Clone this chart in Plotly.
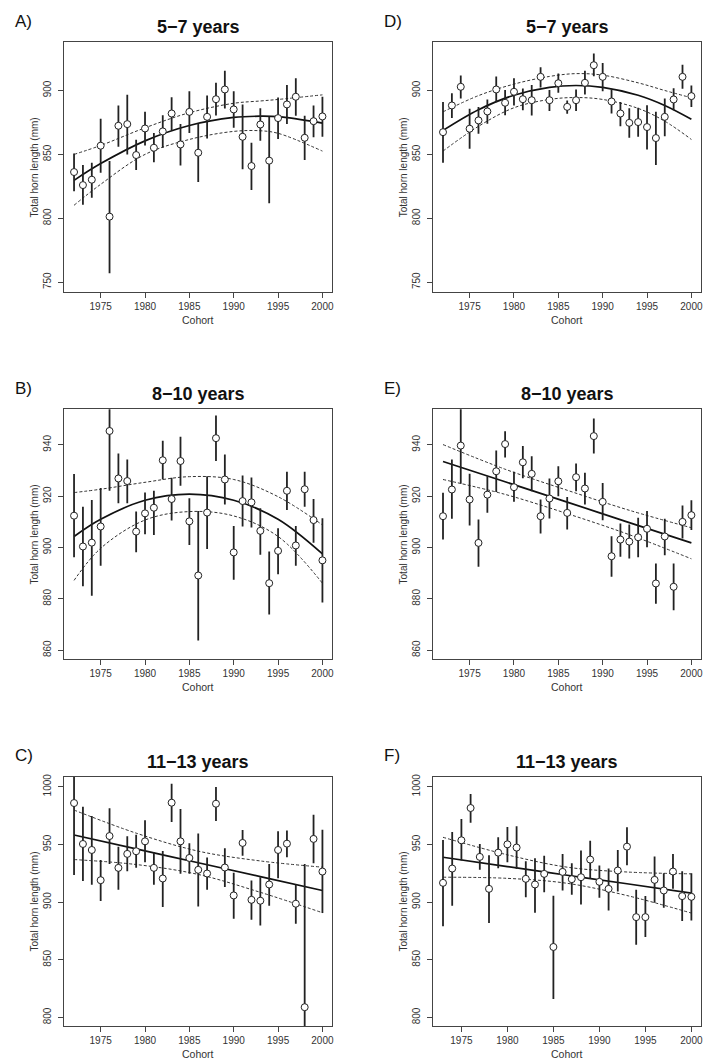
import plotly.graph_objects as go

# ---------------- data ----------------
years_72 = list(range(1972, 2001))
years_73 = list(range(1973, 2001))

# Panel A (5-7 years, left)
a_mean = [836.2, 826.0, 830.2, 856.8, 801.3, 872.4, 873.7, 849.5, 870.3, 855.2, 868.0, 882.0, 857.8, 883.3, 851.3,
          879.4, 893.2, 900.8, 885.2, 863.8, 840.9, 873.4, 845.1, 878.4, 889.1, 895.1, 863.0, 876.0, 879.7]
a_hi = [850.8, 841.7, 843.5, 877.9, 844.8, 888.3, 896.6, 861.5, 883.3, 866.7, 880.7, 894.8, 873.7, 899.5, 874.0,
        896.1, 906.0, 915.4, 899.5, 889.1, 859.1, 886.2, 879.4, 894.5, 904.4, 909.6, 880.2, 888.3, 895.1]
a_lo = [821.1, 810.7, 816.1, 835.7, 757.0, 856.0, 850.0, 837.8, 857.0, 843.8, 855.2, 869.0, 841.4, 866.7, 828.4,
        862.5, 880.5, 885.9, 870.8, 838.3, 822.1, 860.7, 811.7, 862.0, 873.7, 880.2, 845.6, 863.5, 863.8]
a_fit_x = [1972, 1975, 1980, 1985, 1990, 1993, 1995, 2000]
a_fit = [829.7, 842.8, 860.6, 872.6, 878.9, 879.9, 879.5, 874.5]
a_fit_hi = [850.0, 857.0, 870.8, 882.6, 890.0, 891.8, 893.0, 896.6]
a_fit_lo = [810.2, 826.6, 850.0, 861.7, 868.0, 868.5, 866.5, 852.6]

# Panel D (5-7 years, right)
d_mean = [867.4, 888.3, 902.9, 870.1, 876.6, 883.6, 900.8, 890.4, 899.0, 893.2, 892.4, 910.7, 892.4, 905.7, 887.2,
          892.4, 906.0, 919.8, 910.7, 891.4, 882.0, 874.7, 875.3, 871.4, 862.8, 879.4, 893.0, 910.7, 895.6]
d_hi = [891.1, 897.9, 911.7, 885.7, 887.0, 893.0, 910.9, 900.3, 909.6, 901.6, 904.4, 918.2, 900.3, 913.3, 892.2,
        900.8, 915.4, 928.9, 921.6, 900.8, 891.1, 886.2, 886.5, 888.5, 883.3, 893.8, 901.8, 920.1, 903.9]
d_lo = [843.5, 878.4, 893.8, 854.4, 866.1, 874.0, 890.9, 880.7, 888.3, 884.6, 880.5, 902.3, 883.9, 898.2, 881.8,
        883.9, 896.9, 911.2, 899.5, 882.0, 872.1, 863.0, 863.8, 853.9, 841.7, 864.3, 884.6, 901.3, 887.0]
d_fit_x = [1972, 1976, 1980, 1984, 1987, 1990, 1994, 1997, 2000]
d_fit = [868.8, 885.0, 896.3, 902.5, 903.9, 902.5, 896.3, 888.3, 877.5]
d_fit_hi = [883.3, 896.0, 905.0, 911.0, 913.2, 912.0, 906.0, 900.0, 894.3]
d_fit_lo = [852.6, 872.0, 886.5, 893.0, 894.5, 893.0, 886.0, 876.0, 861.7]

# Panel B (8-10 years, left)
b_mean = [912.4, 900.4, 901.9, 908.2, 945.4, 926.9, 925.9, 906.2, 913.3, 915.5, 934.0, 918.9, 933.7, 910.2, 889.1,
          913.6, 942.6, 926.5, 898.1, 918.1, 917.6, 906.5, 886.1, 898.7, 922.1, 900.8, 922.7, 910.7, 895.0]
b_hi = [928.6, 915.9, 918.5, 923.2, 960.0, 936.6, 934.3, 914.0, 921.4, 922.1, 941.6, 927.2, 943.1, 919.2, 914.2,
        927.8, 951.4, 936.2, 908.4, 928.1, 927.3, 915.3, 898.4, 907.5, 929.5, 908.4, 929.5, 918.9, 911.4]
b_lo = [896.2, 884.9, 881.2, 892.9, 922.1, 917.2, 917.2, 898.2, 905.2, 904.9, 926.5, 910.5, 924.1, 901.0, 863.8,
        899.4, 933.7, 916.8, 887.4, 908.2, 907.8, 897.2, 873.9, 889.6, 914.6, 892.9, 915.9, 901.9, 878.6]
b_fit_x = [1972, 1975, 1980, 1985, 1990, 1995, 2000]
b_fit = [904.3, 911.0, 918.4, 920.8, 918.4, 911.0, 897.5]
b_fit_hi = [921.4, 922.7, 925.4, 927.6, 926.5, 919.8, 908.8]
b_fit_lo = [887.2, 899.7, 910.7, 914.0, 912.3, 904.3, 886.1]

# Panel E (8-10 years, right)
e_mean = [912.2, 922.6, 939.7, 918.7, 901.8, 920.6, 929.7, 940.3, 923.5, 933.2, 928.7, 912.2, 919.1, 925.8, 913.5,
          927.4, 923.0, 943.4, 917.8, 896.6, 903.1, 902.3, 904.0, 907.3, 886.0, 904.3, 884.7, 910.0, 912.6]
e_hi = [921.3, 934.3, 958.0, 928.7, 910.9, 927.8, 937.8, 945.3, 929.5, 939.5, 935.6, 918.7, 926.9, 931.7, 919.7,
        932.7, 929.1, 950.3, 925.1, 904.4, 909.4, 909.0, 911.6, 914.2, 893.8, 911.2, 893.8, 916.4, 918.4]
e_lo = [903.1, 911.2, 924.8, 908.6, 892.5, 913.5, 921.6, 935.1, 917.8, 927.0, 921.9, 905.5, 911.3, 920.0, 907.0,
        921.9, 916.8, 936.6, 910.6, 888.6, 896.4, 895.7, 896.2, 900.1, 878.1, 897.0, 875.6, 903.5, 906.8]
e_fit_x = [1972, 1979, 1986, 1993, 2000]
e_fit = [933.5, 925.6, 917.7, 909.7, 901.8]
e_fit_hi = [940.1, 930.5, 922.3, 914.5, 907.7]
e_fit_lo = [926.5, 920.7, 913.2, 905.0, 895.6]

# Panel C (11-13 years, left)
c_mean = [985.9, 950.4, 945.2, 919.0, 957.3, 929.7, 941.8, 944.1, 952.7, 929.7, 920.5, 986.2, 952.7, 938.3, 928.0,
          924.8, 985.3, 930.0, 905.8, 951.3, 902.0, 901.2, 915.3, 945.2, 950.7, 898.6, 808.9, 954.8, 926.5]
c_hi = [1015.0, 982.7, 974.6, 936.6, 981.3, 948.1, 957.1, 958.5, 970.9, 943.2, 944.4, 1002.6, 980.7, 951.0, 959.4,
        938.6, 999.7, 946.7, 925.4, 962.5, 918.7, 921.6, 933.1, 961.4, 962.0, 915.3, 933.1, 975.8, 962.8]
c_lo = [923.6, 918.2, 915.0, 900.9, 933.1, 910.7, 926.8, 929.7, 934.6, 915.0, 895.7, 969.5, 924.5, 924.5, 896.3,
        910.7, 970.3, 913.0, 885.6, 940.1, 884.7, 879.8, 896.8, 920.7, 938.9, 881.3, 780.0, 933.7, 890.5]
c_fit_x = [1972, 1979, 1986, 1993, 2000]
c_fit = [958.2, 946.2, 934.1, 922.1, 910.1]
c_fit_hi = [979.8, 959.8, 944.2, 935.7, 930.3]
c_fit_lo = [936.9, 932.6, 924.0, 908.5, 890.8]

# Panel F (11-13 years, right)
f_mean = [916.7, 929.1, 953.6, 981.6, 939.2, 911.5, 942.9, 950.1, 947.3, 920.2, 915.3, 924.5, 861.1, 926.2,
          919.9, 921.6, 936.9, 917.6, 911.5, 927.4, 948.1, 887.0, 887.0, 919.3, 910.1, 926.5, 905.2, 904.6]
f_hi = [953.9, 960.8, 972.0, 993.7, 950.4, 940.6, 956.2, 965.1, 965.7, 935.4, 938.0, 940.1, 905.5, 941.8,
        933.7, 944.7, 953.3, 931.7, 929.1, 945.2, 964.8, 910.7, 905.2, 939.5, 925.1, 941.8, 926.8, 925.1]
f_lo = [879.0, 896.8, 936.0, 968.9, 928.0, 881.8, 929.4, 934.6, 928.8, 904.3, 890.8, 908.6, 816.1, 910.1,
        906.3, 898.0, 920.2, 903.7, 892.8, 909.2, 932.0, 863.1, 869.7, 899.4, 895.1, 911.5, 883.6, 884.1]
f_fit_x = [1973, 1980, 1986.5, 1993, 2000]
f_fit = [938.9, 930.8, 923.3, 915.9, 907.8]
f_fit_hi = [956.2, 941.0, 930.3, 926.1, 924.5]
f_fit_lo = [921.6, 920.6, 916.3, 905.7, 890.5]

titles = ["5\u22127 years", "8\u221210 years", "11\u221213 years"]
panel_labels = ["A)", "B)", "C)", "D)", "E)", "F)"]
x_ticks = [1975, 1980, 1985, 1990, 1995, 2000]
y_ticks_row1 = [750, 800, 850, 900]
y_ticks_row2 = [860, 880, 900, 920, 940]
y_ticks_row3 = [800, 850, 900, 950, 1000]

# ---------------- layout helpers ----------------
W, H = 708, 1064
FONT = "Liberation Sans, Arial, Helvetica, sans-serif"
col_px = [(64.3, 333.3), (434.3, 703.3)]
row_px = [(39.3, 290.0), (407.3, 658.3), (775.7, 1026.0)]
row_yrange = [(742.2, 937.8), (856.4, 953.9), (792.5, 1008.9)]
row_yticks = [y_ticks_row1, y_ticks_row2, y_ticks_row3]


def px_x(v):
    return v / W


def px_y(v):
    return 1 - v / H


panels = [
    (0, 0, years_72, a_mean, a_hi, a_lo, a_fit_x, a_fit, a_fit_hi, a_fit_lo, (1970.88, 2001.12)),
    (0, 1, years_72, b_mean, b_hi, b_lo, b_fit_x, b_fit, b_fit_hi, b_fit_lo, (1970.88, 2001.12)),
    (0, 2, years_72, c_mean, c_hi, c_lo, c_fit_x, c_fit, c_fit_hi, c_fit_lo, (1970.88, 2001.12)),
    (1, 0, years_72, d_mean, d_hi, d_lo, d_fit_x, d_fit, d_fit_hi, d_fit_lo, (1970.88, 2001.12)),
    (1, 1, years_72, e_mean, e_hi, e_lo, e_fit_x, e_fit, e_fit_hi, e_fit_lo, (1970.88, 2001.12)),
    (1, 2, years_73, f_mean, f_hi, f_lo, f_fit_x, f_fit, f_fit_hi, f_fit_lo, (1971.92, 2001.08)),
]

fig = go.Figure()
layout = dict(width=W, height=H, margin=dict(l=0, r=0, t=0, b=0),
              paper_bgcolor="white", plot_bgcolor="white", showlegend=False,
              font=dict(family=FONT, color="#333"))
annotations = []

for i, (c, r, yrs, mean, hi, lo, fx, fy, fhi, flo, xr) in enumerate(panels):
    n = i + 1
    xa = "x" if n == 1 else f"x{n}"
    ya = "y" if n == 1 else f"y{n}"
    x0, x1 = col_px[c]
    y0, y1 = row_px[r]
    common = dict(showgrid=False, zeroline=False, showline=True, mirror=True,
                  linecolor="#444", linewidth=1, ticks="outside", ticklen=5,
                  tickwidth=1, tickcolor="#444", tickfont=dict(size=10, color="#333", family=FONT))
    layout["xaxis" if n == 1 else f"xaxis{n}"] = dict(
        domain=[px_x(x0), px_x(x1)], range=list(xr), tickvals=x_ticks,
        anchor=ya, **common)
    layout["yaxis" if n == 1 else f"yaxis{n}"] = dict(
        domain=[px_y(y1), px_y(y0)], range=list(row_yrange[r]), tickvals=row_yticks[r],
        tickangle=-90, anchor=xa, ticklabelstandoff=3, **common)

    # fit lines
    fig.add_trace(go.Scatter(x=fx, y=fhi, mode="lines", line=dict(color="#333", width=1, dash="3px,2px", shape="spline"),
                             xaxis=xa, yaxis=ya, hoverinfo="skip"))
    fig.add_trace(go.Scatter(x=fx, y=flo, mode="lines", line=dict(color="#333", width=1, dash="3px,2px", shape="spline"),
                             xaxis=xa, yaxis=ya, hoverinfo="skip"))
    fig.add_trace(go.Scatter(x=fx, y=fy, mode="lines", line=dict(color="#111", width=1.7, shape="spline"),
                             xaxis=xa, yaxis=ya, hoverinfo="skip"))
    # points with CI bars
    fig.add_trace(go.Scatter(
        x=yrs, y=mean, mode="markers",
        marker=dict(symbol="circle", size=7, color="white", line=dict(color="#222", width=1)),
        error_y=dict(type="data", symmetric=False,
                     array=[h - m for h, m in zip(hi, mean)],
                     arrayminus=[m - l for m, l in zip(mean, lo)],
                     width=0, thickness=1.8, color="#222"),
        xaxis=xa, yaxis=ya))

    cx = px_x((x0 + x1) / 2)
    cy = px_y((y0 + y1) / 2)
    annotations.append(dict(text=f"<b>{titles[r]}</b>", x=cx, y=px_y(y0 - 15), xref="paper", yref="paper",
                            xanchor="center", yanchor="middle", showarrow=False,
                            font=dict(size=18, color="#111", family=FONT)))
    lx = 12.7 if c == 0 else 383.3
    annotations.append(dict(text=panel_labels[i], x=px_x(lx), y=px_y(y0 - 21), xref="paper", yref="paper",
                            xanchor="left", yanchor="middle", showarrow=False,
                            font=dict(size=17, color="#111", family=FONT)))
    annotations.append(dict(text="Total horn length (mm)", x=px_x(x0 - 30), y=cy, xref="paper", yref="paper",
                            xanchor="center", yanchor="middle", textangle=-90, showarrow=False,
                            font=dict(size=10, color="#333", family=FONT)))
    annotations.append(dict(text="Cohort", x=cx, y=px_y(y1 + 28), xref="paper", yref="paper",
                            xanchor="center", yanchor="middle", showarrow=False,
                            font=dict(size=10.5, color="#333", family=FONT)))

layout["annotations"] = annotations
fig.update_layout(**layout)
fig.write_html(
    "out.html",
    config={"displayModeBar": False},
    post_script="document.documentElement.style.overflow='hidden';"
                "document.body.style.margin='0';document.body.style.overflow='hidden';",
)
